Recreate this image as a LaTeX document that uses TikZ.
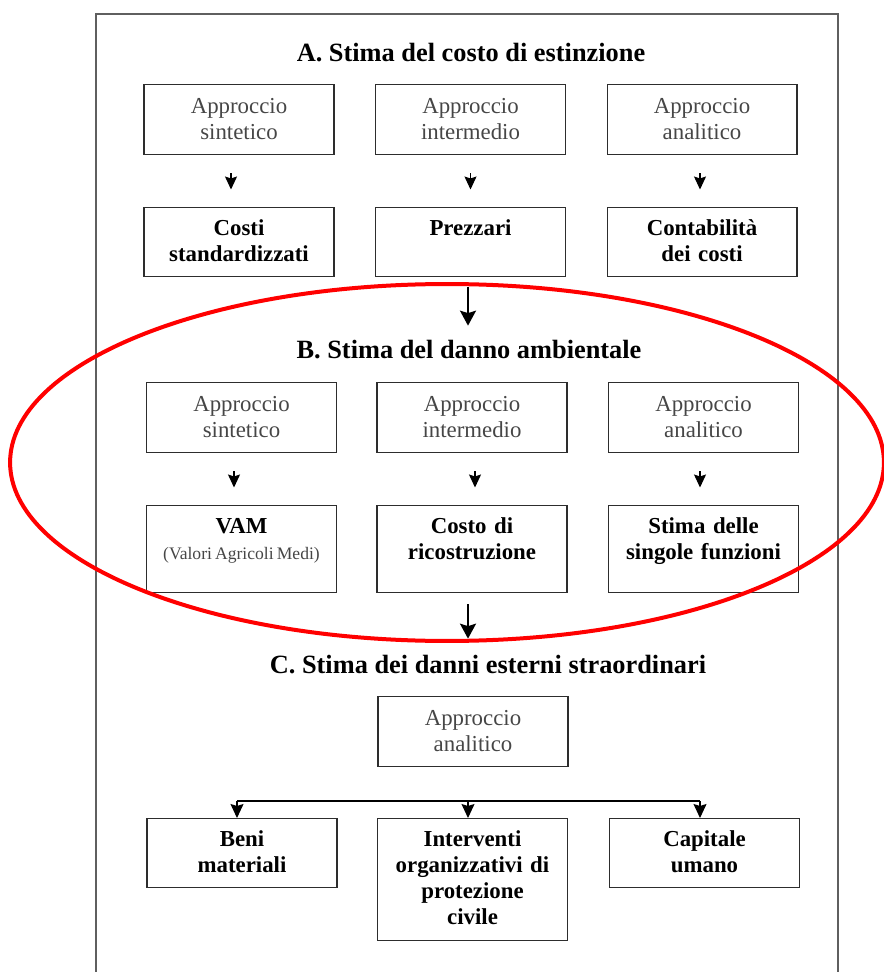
\documentclass[tikz,border=0pt]{standalone}
\usepackage{fontspec}
\setmainfont{Liberation Serif}
\usepackage{tikz}
\usetikzlibrary{arrows.meta, positioning}
\definecolor{framegray}{RGB}{95,95,95}
\definecolor{boxgray}{RGB}{45,45,45}
\definecolor{textgray}{RGB}{70,70,70}
\definecolor{markred}{RGB}{255,0,0}
\newcommand{\boxfont}{\fontsize{13}{14.8}\selectfont}
\newcommand{\titlefont}{\fontsize{15}{17}\selectfont\bfseries}

\begin{document}
\begin{tikzpicture}[
    x=0.02cm, y=-0.02cm,
    box/.style={draw=boxgray, line width=0.6pt, text width=3.7cm, minimum width=3.8cm, inner sep=0pt, anchor=north, align=center, font=\boxfont},
    approach/.style={box, text=textgray, text height=0.58cm, text depth=0.82cm},
    result/.style={box, font=\boxfont\bfseries, text height=0.56cm, text depth=0.82cm},
    title/.style={font=\titlefont, inner sep=0pt, anchor=base, text height=0.36cm},
    smallarr/.style={-{Stealth[length=0.26cm, width=0.24cm, inset=0.04cm]}, line width=0.7pt, shorten <=0.36cm, shorten >=0.35cm},
    bigarr/.style={-{Stealth[length=0.3cm, width=0.32cm, inset=0.05cm]}, line width=1.3pt},
    treearr/.style={-{Stealth[length=0.28cm, width=0.26cm, inset=0.04cm]}, line width=0.6pt}
]
    \useasboundingbox (0,0) rectangle (884,972);
    % page frame
    \draw[framegray, line width=0.6pt] (96,14) rectangle (838,1000);

    % A
    \node[title] (titA) at (471,62) {A. Stima del costo di estinzione};
    \node[approach] (apA1) at (239,84) {Approccio\\sintetico};
    \node[approach] (apA2) at (470.5,84) {Approccio\\intermedio};
    \node[approach] (apA3) at (702,84) {Approccio\\analitico};
    \node[result] (resA1) at (239,207) {Costi\\standardizzati};
    \node[result] (resA2) at (470.5,207) {Prezzari};
    \node[result] (resA3) at (702,207) {Contabilità\\dei costi};
    \draw[smallarr] ([xshift=-0.16cm]apA1.south) -- ([xshift=-0.16cm]resA1.north);
    \draw[smallarr] (apA2) -- (resA2);
    \draw[smallarr] ([xshift=-0.04cm]apA3.south) -- ([xshift=-0.04cm]resA3.north);

    % B
    \node[title] (titB) at (469,359) {B. Stima del danno ambientale};
    \node[approach] (apB1) at (241.5,382) {Approccio\\sintetico};
    \node[approach] (apB2) at (472,382) {Approccio\\intermedio};
    \node[approach] (apB3) at (703.5,382) {Approccio\\analitico};
    \node[result, text depth=1.18cm] (resB1) at (241.5,505) {VAM\\\mbox{\mdseries\fontsize{10}{14}\selectfont\spaceskip=1.8pt\color{textgray}(Valori Agricoli Medi)}};
    \node[result, text depth=1.18cm] (resB2) at (472,505) {Costo di\\ricostruzione};
    \node[result, text depth=1.18cm] (resB3) at (703.5,505) {Stima delle\\singole funzioni};
    \draw[smallarr] ([xshift=-0.15cm]apB1.south) -- ([xshift=-0.15cm]resB1.north);
    \draw[smallarr] ([xshift=0.06cm]apB2.south) -- ([xshift=0.06cm]resB2.north);
    \draw[smallarr] ([xshift=-0.07cm]apB3.south) -- ([xshift=-0.07cm]resB3.north);

    % C
    \node[title] (titC) at (488,673) {C. Stima dei danni esterni straordinari};
    \node[approach] (apC) at (473,696) {Approccio\\analitico};
    \node[result] (resC1) at (242,818) {Beni\\materiali};
    \node[result, text depth=1.88cm] (resC2) at (472.5,818) {Interventi\\organizzativi di\\protezione\\civile};
    \node[result] (resC3) at (704.5,818) {Capitale\\umano};
    \coordinate (hbar) at (468,801);
    \draw[line width=0.6pt] ([xshift=-0.1cm]resC1.north |- hbar) -- ([xshift=-0.09cm]resC3.north |- hbar);
    \draw[treearr] ([xshift=-0.1cm]resC1.north |- hbar) -- ([xshift=-0.1cm]resC1.north);
    \draw[treearr] ([xshift=-0.09cm]resC2.north |- hbar) -- ([xshift=-0.09cm]resC2.north);
    \draw[treearr] ([xshift=-0.09cm]resC3.north |- hbar) -- ([xshift=-0.09cm]resC3.north);

    % section arrows
    \draw[bigarr, shorten <=0.2cm, shorten >=0.3cm] ([xshift=-0.05cm]resA2.south) -- ([xshift=-0.05cm]resA2.south |- titB.north);
    \draw[bigarr, shorten <=0.22cm, shorten >=0.32cm] ([xshift=-0.08cm]resB2.south) -- ([xshift=-0.08cm]resB2.south |- titC.north);

    % highlight
    \draw[markred, line width=0.08cm] (447,462.5) ellipse [x radius=8.74cm, y radius=3.57cm];
\end{tikzpicture}
\end{document}
